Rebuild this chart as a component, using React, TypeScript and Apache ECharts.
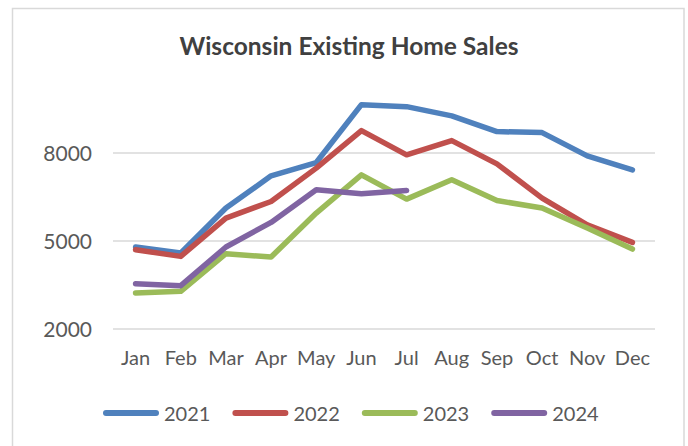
import React, { useEffect, useRef } from "react";
import * as echarts from "echarts";

const months = ["Jan", "Feb", "Mar", "Apr", "May", "Jun", "Jul", "Aug", "Sep", "Oct", "Nov", "Dec"];
const sales2021 = [4775, 4570, 6105, 7206, 7659, 9636, 9568, 9251, 8716, 8682, 7888, 7410];
const sales2022 = [4683, 4455, 5764, 6330, 7468, 8750, 7922, 8409, 7615, 6445, 5535, 4932];
const sales2023 = [3207, 3261, 4547, 4434, 5934, 7240, 6411, 7069, 6364, 6105, 5423, 4707];
const sales2024 = [3524, 3456, 4775, 5614, 6728, 6592, 6705];
const seriesNames = ["2021", "2022", "2023", "2024"];
const seriesColors = ["#4f81bd", "#c0504d", "#9bbb59", "#8064a2"];
const yTicks = { min: 2000, max: 11000, interval: 3000 };
const titleText = "Wisconsin Existing Home Sales";

export default function App() {
  const ref = useRef<HTMLDivElement>(null);
  useEffect(() => {
    if (!ref.current) return;
    const chart = echarts.init(ref.current, undefined, { renderer: "svg" });
    const allData = [sales2021, sales2022, sales2023, sales2024];
    const font = "Lato";
    chart.setOption({
      animation: false,
      backgroundColor: "#ffffff",
      title: {
        text: titleText,
        left: 344,
        textAlign: "center",
        top: 28,
        textStyle: { fontFamily: font, fontWeight: "bold", fontSize: 24.5, color: "#404040" },
      },
      graphic: [
        {
          type: "rect",
          shape: { x: 12.5, y: 8.5, width: 671.5, height: 450 },
          style: { fill: "none", stroke: "#d9d9d9", lineWidth: 1.5 },
          silent: true,
          z: -1,
        },
      ],
      legend: {
        left: 98,
        top: 398,
        itemWidth: 56,
        itemHeight: 6,
        itemGap: 22,
        icon: "path://M3,0 H53 A3,3 0 0 1 53,6 H3 A3,3 0 0 1 3,0 Z",
        data: seriesNames,
        textStyle: { fontFamily: font, fontSize: 20, color: "#595959" },
      },
      grid: { left: 113, right: 33, top: 64.7, bottom: 117.7 },
      xAxis: {
        type: "category",
        data: months,
        boundaryGap: true,
        axisLine: { show: false },
        axisTick: { show: false },
        axisLabel: { fontFamily: font, fontSize: 20, color: "#595959", margin: 19, interval: 0 },
      },
      yAxis: {
        type: "value",
        min: yTicks.min,
        max: yTicks.max,
        interval: yTicks.interval,
        axisLine: { show: false },
        axisTick: { show: false },
        axisLabel: {
          fontFamily: font,
          fontSize: 21,
          color: "#595959",
          margin: 21,
          showMaxLabel: false,
          formatter: (v: number) => String(v),
        },
        splitLine: { show: true, showMaxLine: false, lineStyle: { color: "#d9d9d9", width: 1.5 } },
      },
      series: seriesNames.map((name, i) => ({
        name,
        type: "line",
        data: allData[i],
        symbol: "none",
        showSymbol: false,
        color: seriesColors[i],
        lineStyle: { width: 5.5, color: seriesColors[i], cap: "round", join: "round" },
      })),
    });
    return () => chart.dispose();
  }, []);
  return <div ref={ref} style={{ position: "absolute", left: 0, top: 0, width: 688, height: 446 }} />;
}
